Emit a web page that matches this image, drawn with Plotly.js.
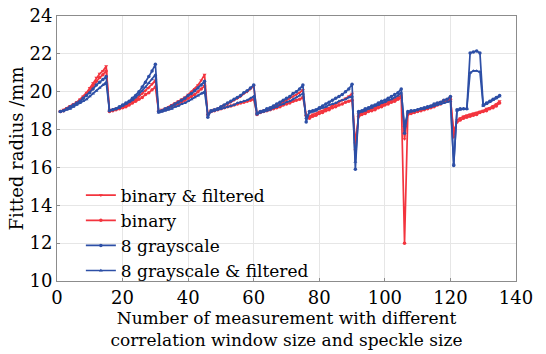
<!DOCTYPE html>
<html><head><meta charset="utf-8">
<script src="https://cdn.plot.ly/plotly-3.0.1.min.js"></script>
<style>html,body{margin:0;padding:0;background:#fff}#c{width:546px;height:354px}</style>
</head><body><div id="c"></div>
<script>
// measurement index 1..135
const measurement = Array.from({length:135},(_,i)=>i+1);
const seriesNames = ["binary & filtered","binary","8 grayscale","8 grayscale & filtered"];
const binaryFiltered = [
 18.95,19.05,19.15,19.25,19.35,19.45,19.6,19.75,19.95,20.2,20.45,20.75,20.95,21.1,21.35,
 19.0,19.05,19.1,19.15,19.2,19.3,19.4,19.5,19.6,19.75,19.9,20.05,20.2,20.4,20.6,
 18.95,19.05,19.1,19.2,19.3,19.4,19.5,19.6,19.7,19.85,20.0,20.15,20.35,20.6,20.9,
 18.75,19.0,19.05,19.1,19.2,19.3,19.35,19.45,19.55,19.65,19.75,19.9,20.0,20.15,20.3,
 18.85,18.95,19.0,19.05,19.1,19.2,19.25,19.35,19.45,19.55,19.65,19.75,19.85,19.95,20.1,
 18.7,18.7,18.8,18.85,18.95,19.0,19.1,19.15,19.25,19.35,19.45,19.55,19.65,19.75,19.9,
 16.9,18.8,18.9,18.95,19.0,19.1,19.15,19.25,19.3,19.4,19.45,19.55,19.6,19.7,19.8,
 17.5,18.85,18.9,18.95,19.0,19.05,19.1,19.15,19.25,19.3,19.4,19.45,19.55,19.6,19.7,
 17.6,18.5,18.6,18.7,18.75,18.8,18.85,18.9,18.95,19.0,19.1,19.15,19.25,19.35,19.5];
const binary = [
 18.95,19.0,19.1,19.2,19.3,19.4,19.55,19.7,19.85,20.05,20.3,20.55,20.75,20.9,21.1,
 18.95,19.0,19.05,19.1,19.15,19.2,19.3,19.4,19.5,19.6,19.7,19.85,19.95,20.1,20.25,
 18.95,19.0,19.05,19.1,19.2,19.3,19.35,19.45,19.55,19.65,19.75,19.85,20.0,20.15,20.3,
 18.8,18.95,19.0,19.05,19.1,19.15,19.2,19.25,19.3,19.35,19.4,19.45,19.5,19.55,19.6,
 18.8,18.9,18.95,19.0,19.05,19.1,19.15,19.2,19.3,19.35,19.4,19.5,19.55,19.6,19.7,
 18.75,18.6,18.7,18.75,18.85,18.9,19.0,19.05,19.15,19.2,19.3,19.35,19.45,19.5,19.55,
 17.3,18.7,18.8,18.85,18.95,19.0,19.05,19.15,19.2,19.3,19.35,19.45,19.5,19.6,19.7,
 12.0,18.8,18.85,18.9,18.95,19.0,19.05,19.1,19.15,19.2,19.3,19.35,19.45,19.5,19.6,
 17.9,18.4,18.5,18.6,18.65,18.7,18.75,18.8,18.9,18.95,19.0,19.1,19.15,19.25,19.4];
const gray8 = [
 18.95,19.0,19.1,19.2,19.3,19.4,19.5,19.65,19.8,19.95,20.15,20.35,20.5,20.65,20.8,
 19.0,19.05,19.1,19.2,19.3,19.4,19.5,19.65,19.8,20.0,20.25,20.5,20.8,21.1,21.45,
 18.95,19.0,19.1,19.15,19.25,19.35,19.45,19.55,19.65,19.8,19.9,20.05,20.2,20.35,20.55,
 18.65,19.0,19.05,19.1,19.2,19.3,19.4,19.5,19.6,19.7,19.8,19.95,20.05,20.2,20.35,
 18.85,18.95,19.0,19.1,19.15,19.25,19.35,19.45,19.55,19.65,19.75,19.9,20.0,20.15,20.35,
 18.4,18.95,19.0,19.05,19.15,19.25,19.35,19.45,19.55,19.65,19.75,19.85,20.0,20.15,20.4,
 15.9,18.95,19.0,19.1,19.15,19.25,19.3,19.4,19.5,19.55,19.65,19.75,19.85,19.95,20.15,
 17.8,18.95,19.0,19.0,19.05,19.1,19.15,19.2,19.25,19.35,19.4,19.45,19.55,19.6,19.75,
 16.1,19.05,19.1,19.1,19.1,22.05,22.1,22.15,22.05,19.3,19.4,19.5,19.6,19.7,19.8];
const gray8Filtered = [
 18.95,19.0,19.05,19.1,19.2,19.3,19.4,19.5,19.6,19.75,19.9,20.05,20.2,20.35,20.5,
 19.0,19.05,19.1,19.15,19.25,19.35,19.45,19.55,19.7,19.85,20.05,20.25,20.45,20.65,20.9,
 18.9,18.95,19.0,19.05,19.1,19.2,19.25,19.35,19.4,19.5,19.6,19.7,19.8,19.9,20.0,
 18.8,18.95,19.0,19.05,19.1,19.15,19.2,19.25,19.3,19.4,19.45,19.5,19.55,19.65,19.75,
 18.8,18.9,18.95,19.0,19.05,19.15,19.2,19.3,19.35,19.45,19.5,19.6,19.7,19.8,19.9,
 18.6,18.9,18.95,19.0,19.1,19.15,19.2,19.3,19.35,19.4,19.5,19.55,19.6,19.7,19.75,
 16.3,18.9,18.95,19.0,19.1,19.15,19.25,19.3,19.4,19.45,19.55,19.6,19.7,19.8,19.95,
 18.2,18.9,18.95,19.0,19.05,19.1,19.1,19.15,19.2,19.25,19.3,19.35,19.4,19.45,19.5,
 16.2,19.0,19.05,19.1,19.1,21.0,21.1,21.1,21.05,19.25,19.35,19.45,19.55,19.65,19.75];
const xTicks = [0,20,40,60,80,100,120,140];
const yTicks = [10,12,14,16,18,20,22,24];

const RED='#f3343e', BLUE='#2d4fa6';
const F = 'DejaVu Serif, serif';
function tr(y,name,color,sym){
  return {x:measurement,y:y,name:name,type:'scatter',mode:'lines+markers',
    line:{color:color,width:1.7},marker:{color:color,size:3.5,symbol:sym}};
}
const data=[
  tr(binaryFiltered,seriesNames[0],RED,'triangle-down'),
  tr(binary,seriesNames[1],RED,'circle'),
  tr(gray8,seriesNames[2],BLUE,'circle'),
  tr(gray8Filtered,seriesNames[3],BLUE,'triangle-up')
];
const layout={
  width:546,height:354,
  margin:{l:57,r:30,t:16,b:73},
  paper_bgcolor:'#fff',plot_bgcolor:'#fff',
  font:{family:F,size:18,color:'#000'},
  showlegend:true,
  legend:{x:0.052,y:0.39,xanchor:'left',yanchor:'top',bgcolor:'rgba(0,0,0,0)',
    font:{family:F,size:17,color:'#000'},tracegroupgap:0,itemwidth:30},
  xaxis:{range:[0,140],tickvals:xTicks,ticktext:xTicks.map(String),
    showgrid:true,gridcolor:'#e6e6e6',gridwidth:1,zeroline:false,
    showline:true,linecolor:'#8c8c8c',linewidth:1,mirror:true,
    ticks:'inside',ticklen:3,tickcolor:'#8c8c8c',
    tickfont:{family:F,size:18,color:'#000'},
    title:{text:'Number of measurement with different<br>correlation window size and speckle size',
      font:{family:F,size:17,color:'#000'},standoff:3}},
  yaxis:{range:[10,24],tickvals:yTicks,ticktext:yTicks.map(String),
    showgrid:true,gridcolor:'#e6e6e6',gridwidth:1,zeroline:false,
    showline:true,linecolor:'#8c8c8c',linewidth:1,mirror:true,
    ticks:'inside',ticklen:3,tickcolor:'#8c8c8c',
    tickfont:{family:F,size:18,color:'#000'},
    title:{text:'Fitted radius /mm',font:{family:F,size:18,color:'#000'},standoff:1}}
};
Plotly.newPlot('c',data,layout,{displayModeBar:false,staticPlot:true});
</script></body></html>
